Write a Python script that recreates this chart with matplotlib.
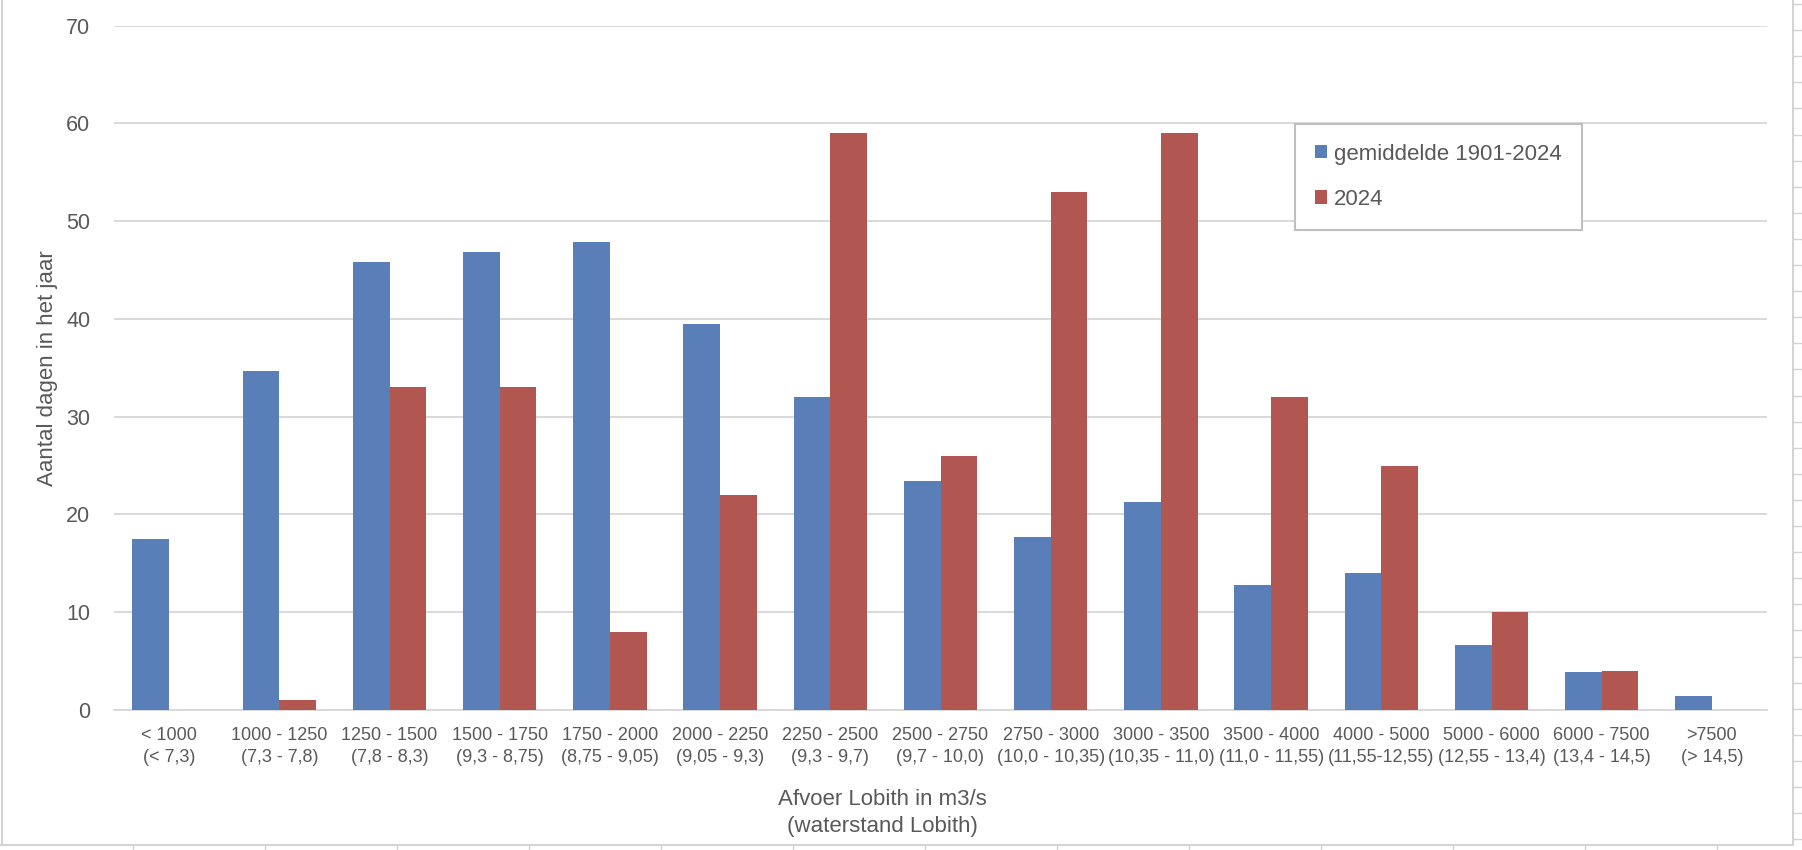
import numpy as np
import matplotlib.pyplot as plt
from matplotlib.lines import Line2D

# Afvoerklassen (m3/s) met waterstand Lobith
klassen = ['< 1000\n(< 7,3)', '1000 - 1250\n(7,3 - 7,8)', '1250 - 1500\n(7,8 - 8,3)',
           '1500 - 1750\n(9,3 - 8,75)', '1750 - 2000\n(8,75 - 9,05)', '2000 - 2250\n(9,05 - 9,3)',
           '2250 - 2500\n(9,3 - 9,7)', '2500 - 2750\n(9,7 - 10,0)', '2750 - 3000\n(10,0 - 10,35)',
           '3000 - 3500\n(10,35 - 11,0)', '3500 - 4000\n(11,0 - 11,55)', '4000 - 5000\n(11,55-12,55)',
           '5000 - 6000\n(12,55 - 13,4)', '6000 - 7500\n(13,4 - 14,5)', '>7500\n(> 14,5)']
gemiddelde = [17.5, 34.7, 45.8, 46.8, 47.9, 39.5, 32.0, 23.4, 17.7, 21.3, 12.8, 14.0, 6.6, 3.9, 1.4]
jaar_2024 = [0, 1, 33, 33, 8, 22, 59, 26, 53, 59, 32, 25, 10, 4, 0]
y_ticks = [0, 10, 20, 30, 40, 50, 60, 70]

blauw = '#5a7fb8'
rood = '#b25651'
tekst = '#595959'
grid = '#d9d9d9'

plt.rcParams['font.family'] = ['Liberation Sans', 'DejaVu Sans']

W, H = 1802, 850
fig = plt.figure(figsize=(W / 100, H / 100), dpi=100)
ax = fig.add_axes([114 / W, 1 - 710 / H, (1767 - 114) / W, (710 - 25.7) / H])

x = np.arange(len(klassen))
bw = 1 / 3
ax.bar(x - bw / 2, gemiddelde, bw, color=blauw, label='gemiddelde 1901-2024', zorder=3)
ax.bar(x + bw / 2, jaar_2024, bw, color=rood, label='2024', zorder=3)

ax.set_xlim(-0.5, len(klassen) - 0.5)
ax.set_ylim(0, 70)
ax.set_yticks(y_ticks)
ax.set_xticks(x)
ax.set_xticklabels(klassen, linespacing=1.4)
ax.tick_params(axis='x', length=0, pad=12, labelsize=13, labelcolor=tekst)
ax.tick_params(axis='y', length=0, pad=17, labelsize=15.5, labelcolor=tekst)
ax.grid(axis='y', color=grid, linewidth=1.4, zorder=0)
for s in ['top', 'right', 'left']:
    ax.spines[s].set_visible(False)
ax.spines['bottom'].set_color(grid)
ax.spines['bottom'].set_linewidth(1.4)

ax.set_ylabel('Aantal dagen in het jaar', fontsize=16, color=tekst, va='center')
ax.yaxis.set_label_coords(-0.0405, 0.5)
ax.set_xlabel('Afvoer Lobith in m3/s\n(waterstand Lobith)', fontsize=16, color=tekst,
              va='center', linespacing=1.35)
ax.xaxis.set_label_coords(0.465, -0.1505)

leg = ax.legend(loc='upper left', bbox_to_anchor=(0.7145, 0.857), borderaxespad=0,
                fontsize=16, handlelength=0.55, handleheight=0.55, handletextpad=0.3,
                labelspacing=1.1, borderpad=0.9, fancybox=False, framealpha=1)
leg.get_frame().set_edgecolor('#bfbfbf')
leg.get_frame().set_linewidth(1.5)
for t in leg.get_texts():
    t.set_color(tekst)

# rand van het grafiekvak en werkbladcellen
lc = '#d4d4d4'
fig.add_artist(Line2D([1.5 / W, 1.5 / W], [1 - 845 / H, 1], color=lc, lw=1.5))
fig.add_artist(Line2D([1793 / W, 1793 / W], [1 - 845 / H, 1], color=lc, lw=1.5))
fig.add_artist(Line2D([0, 1793 / W], [1 - 845 / H, 1 - 845 / H], color=lc, lw=1.5))
for yy in np.arange(4, 850, 26.1):
    fig.add_artist(Line2D([1794 / W, 1], [1 - yy / H, 1 - yy / H], color=lc, lw=1))
for xx in range(133, 1800, 132):
    fig.add_artist(Line2D([xx / W, xx / W], [0, 1 - 846 / H], color=lc, lw=1))

fig.savefig('out.png', dpi=100)
